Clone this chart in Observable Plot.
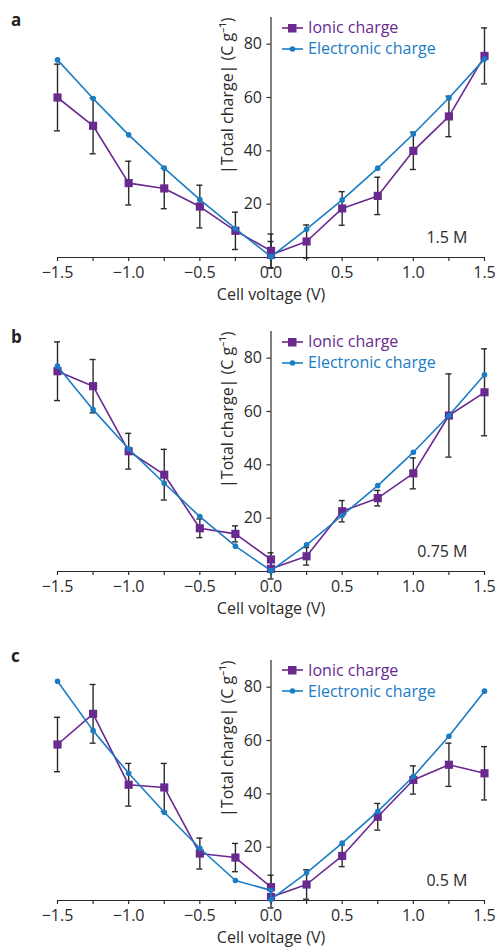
<!DOCTYPE html>
<html>
<head>
<meta charset="utf-8">
<script src="https://cdn.jsdelivr.net/npm/d3@7"></script>
<script src="https://cdn.jsdelivr.net/npm/@observablehq/plot@0.6"></script>
<style>
  html, body { margin: 0; padding: 0; background: #fff; }
  #wrap { position: relative; width: 496px; height: 950px; overflow: hidden; font-family: "Open Sans", sans-serif; color: #333; }
  .panel { position: absolute; left: 0; width: 496px; }
  .letter { position: absolute; left: 11px; font: bold 17px "Open Sans", sans-serif; color: #222; }
  .legend { position: absolute; left: 282px; font: 16px "Open Sans", sans-serif; line-height: 21px; }
  .legend div { display: flex; align-items: center; white-space: nowrap; }
  .legend svg { margin-right: 5px; }
</style>
</head>
<body>
<div id="wrap"></div>
<script>
// ---- data ----
const voltages = [-1.5, -1.25, -1.0, -0.75, -0.5, -0.25, 0, 0, 0.25, 0.5, 0.75, 1.0, 1.25, 1.5];
const xTicks = [-1.5, -1.25, -1.0, -0.75, -0.5, -0.25, 0, 0.25, 0.5, 0.75, 1.0, 1.25, 1.5];
const xTickLabels = [-1.5, -1.0, -0.5, 0, 0.5, 1.0, 1.5];
const yTicks = [20, 40, 60, 80];
const panelLetters = ["a", "b", "c"];
const concentrations = ["1.5 M", "0.75 M", "0.5 M"];
const seriesNames = ["Ionic charge", "Electronic charge"];
const xLabel = "Cell voltage (V)";
const yLabel = "|Total charge| (C g\u207B\u00B9)";

const ionicA = [60, 49.4, 27.9, 25.9, 19.1, 10, 2.5, 1.0, 6.0, 18.4, 23.1, 40, 52.9, 75.6];
const ionicErrA = [12.5, 10.5, 8.2, 7.6, 8, 7, 6.3, 5, 6.2, 6.3, 7, 7, 7.6, 10.5];
const electronicA = [74.1, 59.6, 46, 33.5, 21.7, 10.8, 0.3, 0.3, 10.6, 21.6, 33.5, 46.3, 59.8, 74.4];

const ionicB = [75.1, 69.5, 45.1, 36.3, 16.2, 14.1, 4.5, 1.0, 5.7, 22.6, 27.5, 36.8, 58.5, 67.2];
const ionicErrB = [11, 10, 6.7, 9.5, 3.5, 3, 2.5, 3.8, 3.3, 4, 2.9, 5.8, 15.6, 16.3];
const electronicB = [77, 60.7, 46, 33.1, 20.6, 9.5, 0.3, 0.3, 10, 21, 32.2, 44.7, 58.5, 73.8];

const ionicC = [58.5, 70, 43.4, 42.4, 17.6, 16.1, 5, 1.3, 6, 16.7, 31.4, 45.2, 50.9, 47.7];
const ionicErrC = [10.2, 11, 8, 9, 5.8, 5.3, 4.5, 4.1, 5.5, 4, 5, 5.3, 8.1, 10];
const electronicC = [82.2, 63.7, 47.7, 33.1, 19.6, 7.5, 3.8, 0.4, 10.4, 21.5, 33.4, 46.5, 61.6, 78.5];

// ---- styling ----
const PURPLE = "#69298f";
const BLUE = "#1a7cc3";
const INK = "#2b2b2b";
const panelTops = [0, 314, 642.5];
const letterTops = [8, 325, 644];

function fmtX(d) {
  return (d < 0 ? "\u2212" : "") + Math.abs(d).toFixed(1);
}

function makePanel(i, ionic, err, elec) {
  const ion = voltages.map((x, j) => ({x, v: ionic[j], lo: ionic[j] - err[j], hi: ionic[j] + err[j]}));
  const el = voltages.map((x, j) => ({x, v: elec[j]}));
  const chart = Plot.plot({
    width: 496,
    height: 310,
    marginLeft: 57,
    marginRight: 12,
    marginTop: 17,
    marginBottom: 53,
    style: {fontFamily: "Open Sans, sans-serif", fontSize: "16px", color: INK, background: "transparent"},
    x: {domain: [-1.5, 1.5], axis: null},
    y: {domain: [0, 90], axis: null},
    marks: [
      // x axis
      Plot.ruleY([0], {stroke: INK, strokeWidth: 1.2}),
      Plot.ruleX(xTicks, {x: d => d, y1: 0, y2: 0, insetBottom: -4, stroke: INK, strokeWidth: 1.2}),
      Plot.text(xTickLabels, {x: d => d, y: 0, text: fmtX, dy: 15, fontSize: 16, fill: INK}),
      Plot.text([xLabel], {frameAnchor: "bottom", dy: 42, fontSize: 16, fill: INK}),
      // y axis at x = 0
      Plot.ruleX([0], {y1: 0, y2: 90, stroke: INK, strokeWidth: 1.2}),
      Plot.ruleY(yTicks, {y: d => d, x1: 0, x2: 0, insetLeft: -4, stroke: INK, strokeWidth: 1.2}),
      Plot.text(yTicks, {y: d => d, x: 0, text: d => String(d), dx: -9, textAnchor: "end", fontSize: 16, fill: INK}),
      Plot.text([yLabel], {x: 0, frameAnchor: "top", rotate: -90, textAnchor: "end", dx: -49, dy: 0, fontSize: 16, fill: INK}),
      // concentration label
      Plot.text([concentrations[i]], {frameAnchor: "bottom-right", dx: -17, dy: -15, textAnchor: "end", fontSize: 16, fill: INK}),
      // error bars
      Plot.ruleX(ion, {x: "x", y1: "lo", y2: "hi", stroke: INK, strokeWidth: 1.4}),
      Plot.ruleY(ion, {y: "hi", x1: "x", x2: "x", insetLeft: -3, insetRight: -3, stroke: INK, strokeWidth: 1.4}),
      Plot.ruleY(ion, {y: "lo", x1: "x", x2: "x", insetLeft: -3, insetRight: -3, stroke: INK, strokeWidth: 1.4}),
      // series
      Plot.line(ion, {x: "x", y: "v", stroke: PURPLE, strokeWidth: 1.6, curve: "linear"}),
      Plot.dot(ion, {x: "x", y: "v", symbol: "square", r: 4.6, fill: PURPLE, stroke: "none"}),
      Plot.line(el, {x: "x", y: "v", stroke: BLUE, strokeWidth: 1.6, curve: "linear"}),
      Plot.dot(el, {x: "x", y: "v", r: 2.8, fill: BLUE, stroke: "none"})
    ]
  });
  const panel = document.createElement("div");
  panel.className = "panel";
  panel.style.top = panelTops[i] + "px";
  panel.appendChild(chart);

  const legend = document.createElement("div");
  legend.className = "legend";
  legend.style.top = "17px";
  legend.innerHTML =
    `<div style="color:${PURPLE}"><svg width="21" height="12"><line x1="0" y1="6" x2="21" y2="6" stroke="${PURPLE}" stroke-width="1.6"/><rect x="6" y="2" width="8.5" height="8.5" fill="${PURPLE}"/></svg>${seriesNames[0]}</div>` +
    `<div style="color:${BLUE}"><svg width="21" height="12"><line x1="0" y1="6" x2="21" y2="6" stroke="${BLUE}" stroke-width="1.6"/><circle cx="10.5" cy="6" r="2.8" fill="${BLUE}"/></svg>${seriesNames[1]}</div>`;
  panel.appendChild(legend);
  document.getElementById("wrap").appendChild(panel);

  const letter = document.createElement("div");
  letter.className = "letter";
  letter.style.top = letterTops[i] + "px";
  letter.textContent = panelLetters[i];
  document.getElementById("wrap").appendChild(letter);
}

makePanel(0, ionicA, ionicErrA, electronicA);
makePanel(1, ionicB, ionicErrB, electronicB);
makePanel(2, ionicC, ionicErrC, electronicC);
</script>
</body>
</html>
